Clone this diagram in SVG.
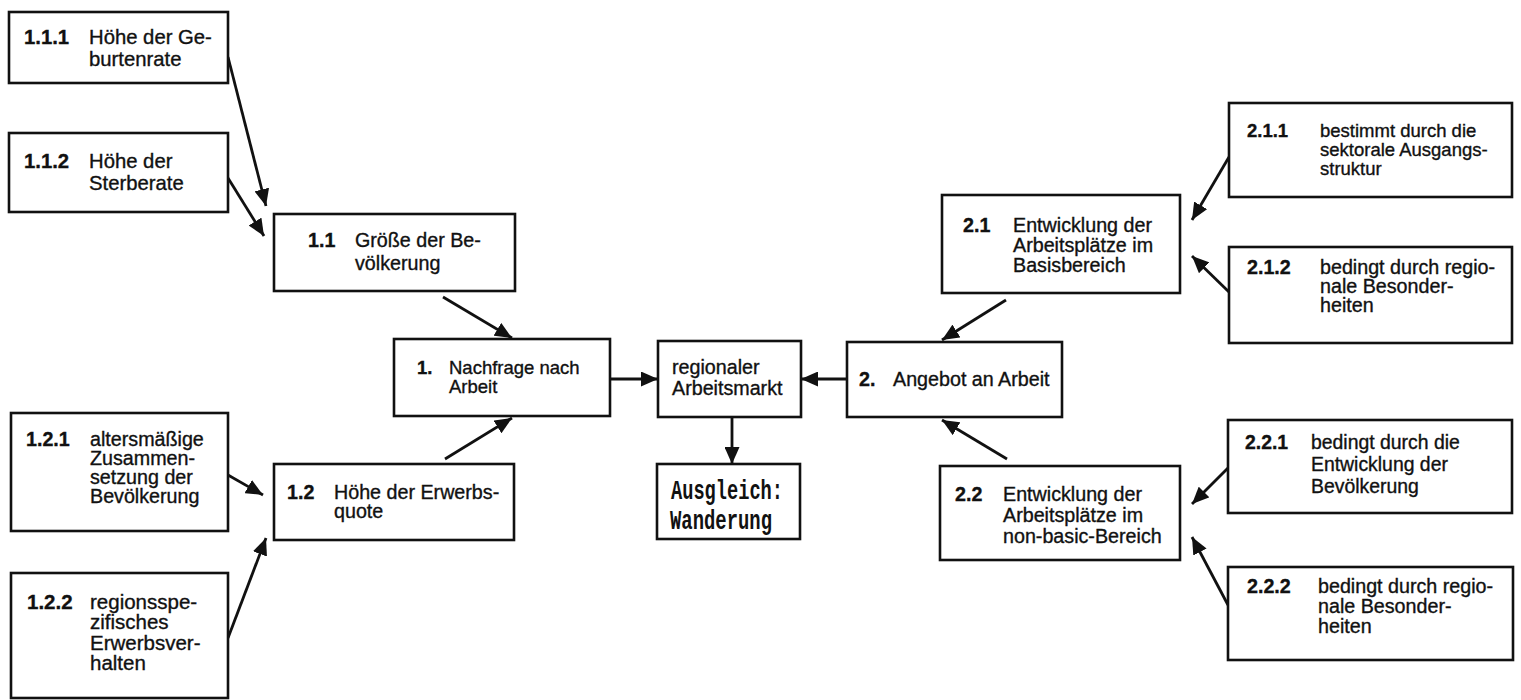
<svg xmlns="http://www.w3.org/2000/svg" width="1521" height="700" viewBox="0 0 1521 700">
  <style>
    .box { fill: #fff; stroke: #111; stroke-width: 2.6; }
    .t { font-family: "Liberation Sans", Arial, sans-serif; font-size: 19.7px; fill: #111; stroke: #111; stroke-width: 0.35; }
    .n { font-weight: bold; }
    .s185 .t { font-size: 18.5px; }
    .s194 .t { font-size: 19.4px; }
    .s203 .t { font-size: 20.3px; }
    .s205 .t { font-size: 20.5px; }
    .mono { font-family: "Liberation Mono", "Courier New", monospace; font-size: 27px; font-weight: bold; fill: #111; }
    .arr { stroke: #111; stroke-width: 2.8; fill: none; marker-end: url(#head); }
  </style>
  <defs>
    <marker id="head" markerUnits="userSpaceOnUse" markerWidth="18" markerHeight="15" refX="17" refY="7.5" orient="auto">
      <path d="M0,0 L17,7.5 L0,15 z" fill="#111"/>
    </marker>
  </defs>
  <rect width="1521" height="700" fill="#fff"/>

  <!-- connectors -->
  <g id="connectors">
    <line class="arr" x1="228" y1="57" x2="266" y2="206"/>
    <line class="arr" x1="228" y1="178" x2="264" y2="236"/>
    <line class="arr" x1="443" y1="297" x2="512" y2="338"/>
    <line class="arr" x1="228" y1="475" x2="263" y2="495"/>
    <line class="arr" x1="228" y1="638" x2="266" y2="538"/>
    <line class="arr" x1="445" y1="459" x2="512" y2="418"/>
    <line class="arr" x1="610" y1="379" x2="658" y2="379"/>
    <line class="arr" x1="847" y1="379" x2="801" y2="379"/>
    <line class="arr" x1="732" y1="417" x2="732" y2="464"/>
    <line class="arr" x1="1006" y1="300" x2="942" y2="340"/>
    <line class="arr" x1="1007" y1="459" x2="942" y2="420"/>
    <line class="arr" x1="1229" y1="157" x2="1192" y2="220"/>
    <line class="arr" x1="1229" y1="292" x2="1192" y2="256"/>
    <line class="arr" x1="1228" y1="468" x2="1192" y2="504"/>
    <line class="arr" x1="1228" y1="605" x2="1192" y2="537"/>
  </g>

  <!-- left branch: demand -->
  <g id="n111" class="s203">
    <rect class="box" x="9" y="12" width="219" height="71"/>
    <text class="t" x="24" y="44"><tspan class="n">1.1.1</tspan><tspan x="89">Höhe der Ge-</tspan></text>
    <text class="t" x="89" y="66">burtenrate</text>
  </g>
  <g id="n112" class="s203">
    <rect class="box" x="9" y="133" width="219" height="79"/>
    <text class="t" x="24" y="168"><tspan class="n">1.1.2</tspan><tspan x="89">Höhe der</tspan></text>
    <text class="t" x="89" y="190">Sterberate</text>
  </g>
  <g id="n11">
    <rect class="box" x="274" y="214" width="241" height="77"/>
    <text class="t" x="308" y="247"><tspan class="n">1.1</tspan><tspan x="355">Größe der Be-</tspan></text>
    <text class="t" x="355" y="270">völkerung</text>
  </g>
  <g id="n121">
    <rect class="box" x="11" y="413" width="217" height="118"/>
    <text class="t" x="26" y="446"><tspan class="n">1.2.1</tspan><tspan x="90">altersmäßige</tspan></text>
    <text class="t" x="90" y="465">Zusammen-</text>
    <text class="t" x="90" y="484">setzung der</text>
    <text class="t" x="90" y="503">Bevölkerung</text>
  </g>
  <g id="n122" class="s205">
    <rect class="box" x="11" y="573" width="217" height="125"/>
    <text class="t" x="27" y="609"><tspan class="n">1.2.2</tspan><tspan x="90">regionsspe-</tspan></text>
    <text class="t" x="90" y="629">zifisches</text>
    <text class="t" x="90" y="650">Erwerbsver-</text>
    <text class="t" x="90" y="670">halten</text>
  </g>
  <g id="n12">
    <rect class="box" x="274" y="464" width="240" height="76"/>
    <text class="t" x="287" y="499"><tspan class="n">1.2</tspan><tspan x="334">Höhe der Erwerbs-</tspan></text>
    <text class="t" x="334" y="518">quote</text>
  </g>
  <g id="n1" class="s185">
    <rect class="box" x="394" y="339" width="216" height="77"/>
    <text class="t" x="417" y="374"><tspan class="n">1.</tspan><tspan x="449">Nachfrage nach</tspan></text>
    <text class="t" x="449" y="393">Arbeit</text>
  </g>

  <!-- centre -->
  <g id="markt">
    <rect class="box" x="658" y="341" width="143" height="76"/>
    <text class="t" x="672" y="374">regionaler</text>
    <text class="t" x="672" y="395">Arbeitsmarkt</text>
  </g>
  <g id="ausgleich">
    <rect class="box" x="657" y="464" width="143" height="75"/>
    <text class="mono" x="671" y="499" textLength="112" lengthAdjust="spacingAndGlyphs">Ausgleich:</text>
    <text class="mono" x="670" y="529" textLength="102" lengthAdjust="spacingAndGlyphs">Wanderung</text>
  </g>

  <!-- right branch: supply -->
  <g id="n2">
    <rect class="box" x="847" y="342" width="215" height="75"/>
    <text class="t" x="859" y="386"><tspan class="n">2.</tspan><tspan x="893">Angebot an Arbeit</tspan></text>
  </g>
  <g id="n21">
    <rect class="box" x="942" y="195" width="238" height="98"/>
    <text class="t" x="963" y="232"><tspan class="n">2.1</tspan><tspan x="1013">Entwicklung der</tspan></text>
    <text class="t" x="1013" y="252">Arbeitsplätze im</text>
    <text class="t" x="1013" y="272">Basisbereich</text>
  </g>
  <g id="n22">
    <rect class="box" x="940" y="466" width="240" height="94"/>
    <text class="t" x="955" y="501"><tspan class="n">2.2</tspan><tspan x="1003">Entwicklung der</tspan></text>
    <text class="t" x="1003" y="522">Arbeitsplätze im</text>
    <text class="t" x="1003" y="543">non-basic-Bereich</text>
  </g>
  <g id="n211" class="s185">
    <rect class="box" x="1229" y="103" width="283" height="94"/>
    <text class="t" x="1247" y="137"><tspan class="n">2.1.1</tspan><tspan x="1320">bestimmt durch die</tspan></text>
    <text class="t" x="1320" y="156">sektorale Ausgangs-</text>
    <text class="t" x="1320" y="175">struktur</text>
  </g>
  <g id="n212">
    <rect class="box" x="1229" y="247" width="283" height="96"/>
    <text class="t" x="1247" y="274"><tspan class="n">2.1.2</tspan><tspan x="1320">bedingt durch regio-</tspan></text>
    <text class="t" x="1320" y="293">nale Besonder-</text>
    <text class="t" x="1320" y="312">heiten</text>
  </g>
  <g id="n221" class="s194">
    <rect class="box" x="1228" y="420" width="284" height="93"/>
    <text class="t" x="1245" y="449"><tspan class="n">2.2.1</tspan><tspan x="1311">bedingt durch die</tspan></text>
    <text class="t" x="1311" y="471">Entwicklung der</text>
    <text class="t" x="1311" y="493">Bevölkerung</text>
  </g>
  <g id="n222">
    <rect class="box" x="1228" y="567" width="285" height="93"/>
    <text class="t" x="1247" y="593"><tspan class="n">2.2.2</tspan><tspan x="1318">bedingt durch regio-</tspan></text>
    <text class="t" x="1318" y="613">nale Besonder-</text>
    <text class="t" x="1318" y="633">heiten</text>
  </g>
</svg>
